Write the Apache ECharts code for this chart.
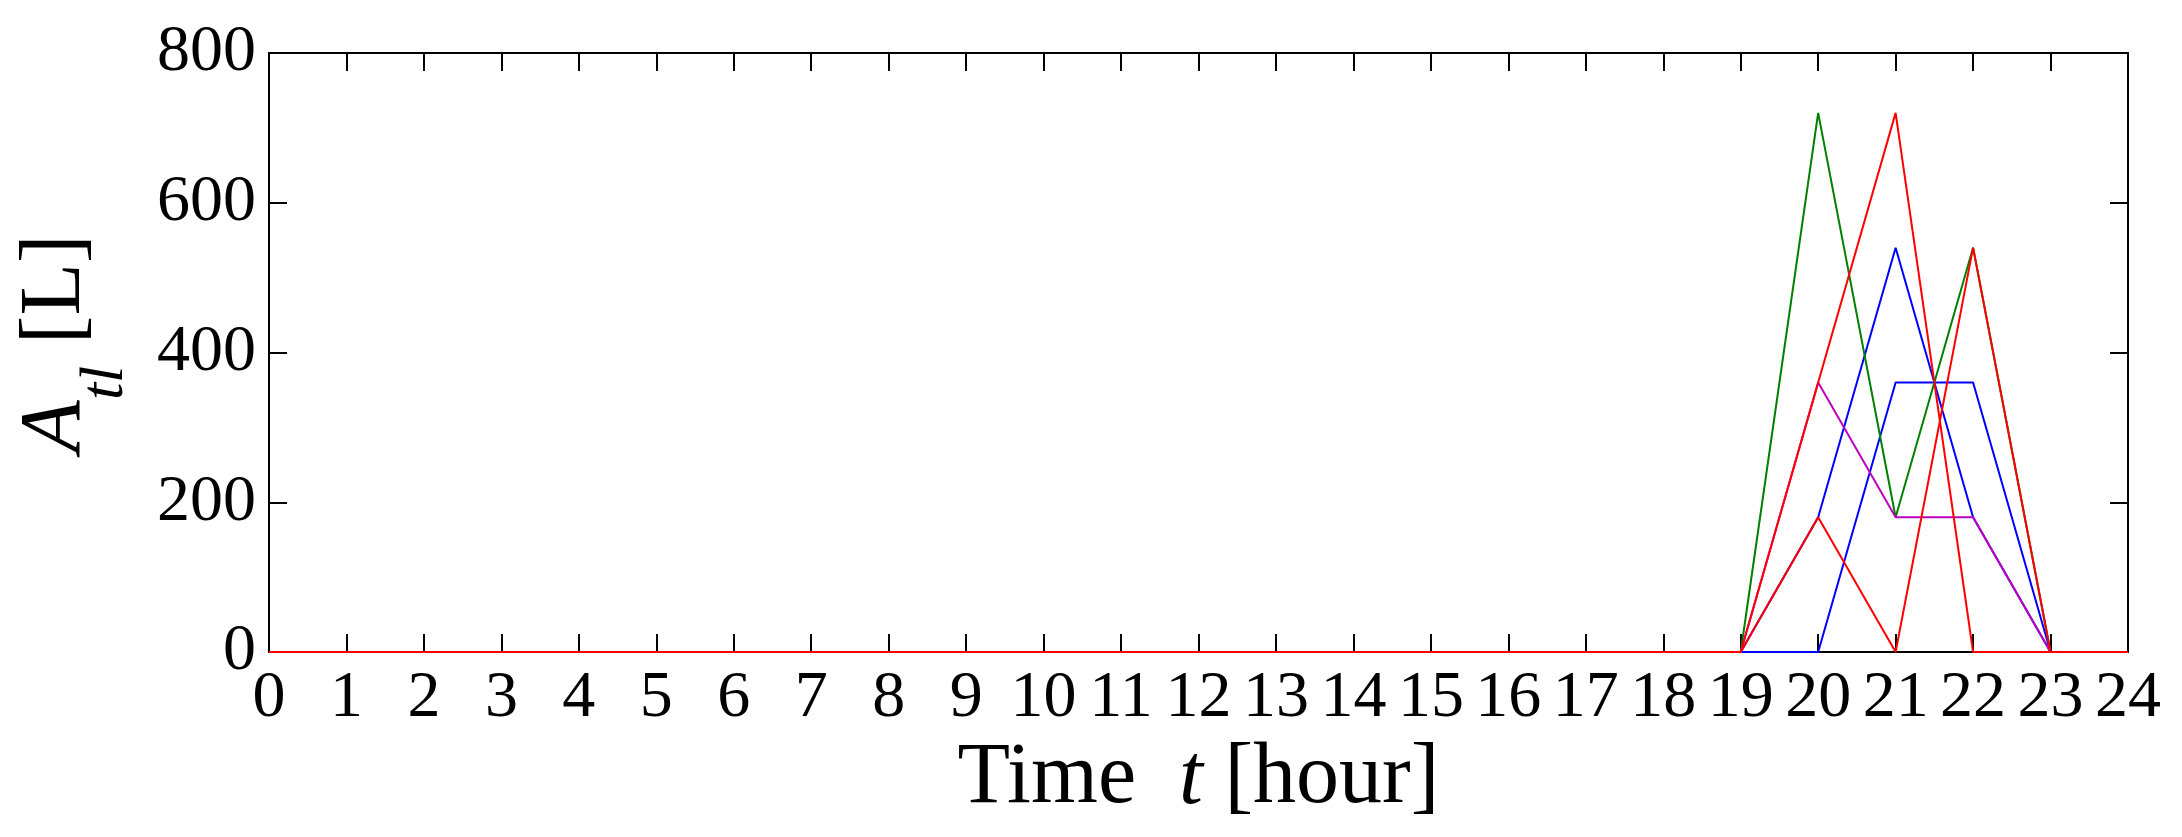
<!DOCTYPE html>
<html>
<head>
<meta charset="utf-8">
<title>A_tl over time</title>
<script src="https://cdn.jsdelivr.net/npm/echarts@6/dist/echarts.min.js"></script>
<style>
  html, body { margin: 0; padding: 0; background: #fff; }
  #chart { width: 2182px; height: 837px; }
</style>
</head>
<body>
<div id="chart"></div>
<script>
// hours of the day (x) and the volume series A_tl [L]
const hours = [0, 1, 2, 3, 4, 5, 6, 7, 8, 9, 10, 11, 12, 13, 14, 15, 16, 17, 18, 19, 20, 21, 22, 23, 24];
const yTicks = [0, 200, 400, 600, 800];

const blueA   = [0, 0, 0, 0, 0, 0, 0, 0, 0, 0, 0, 0, 0, 0, 0, 0, 0, 0, 0, 0, 180, 540, 180, 0, 0];
const blueB   = [0, 0, 0, 0, 0, 0, 0, 0, 0, 0, 0, 0, 0, 0, 0, 0, 0, 0, 0, 0, 0, 360, 360, 0, 0];
const green   = [0, 0, 0, 0, 0, 0, 0, 0, 0, 0, 0, 0, 0, 0, 0, 0, 0, 0, 0, 0, 720, 180, 540, 0, 0];
const magenta = [0, 0, 0, 0, 0, 0, 0, 0, 0, 0, 0, 0, 0, 0, 0, 0, 0, 0, 0, 0, 360, 180, 180, 0, 0];
const redB    = [0, 0, 0, 0, 0, 0, 0, 0, 0, 0, 0, 0, 0, 0, 0, 0, 0, 0, 0, 0, 180, 0, 540, 0, 0];
const redA    = [0, 0, 0, 0, 0, 0, 0, 0, 0, 0, 0, 0, 0, 0, 0, 0, 0, 0, 0, 0, 360, 720, 0, 0, 0];

// draw order: last one ends up on top
const lines = [
    { name: "blueA", color: "#0000ff", data: blueA },
    { name: "blueB", color: "#0000ff", data: blueB },
    { name: "green", color: "#008000", data: green },
    { name: "magenta", color: "#bf00bf", data: magenta },
    { name: "redB", color: "#ff0000", data: redB },
    { name: "redA", color: "#ff0000", data: redA },
];

const FONT = "Liberation Serif";
const axisLine = { show: true, onZero: false, lineStyle: { color: "#000", width: 2 } };
const tickIn = { show: true, inside: true, length: 18, lineStyle: { color: "#000", width: 2 } };

const chart = echarts.init(document.getElementById("chart"));

chart.setOption({
    animation: false,
    backgroundColor: "#fff",
    grid: { left: 269, right: 54, top: 53, bottom: 185 },
    xAxis: [
        {
            type: "value",
            min: hours[0],
            max: hours[hours.length - 1],
            interval: 1,
            position: "bottom",
            axisLine: axisLine,
            axisTick: tickIn,
            splitLine: { show: false },
            axisLabel: {
                fontFamily: FONT, fontSize: 66, color: "#000", margin: 14,
                showMinLabel: true, showMaxLabel: true,
            },
            name: "{n|Time  }{i|t}{n| [hour]}",
            nameLocation: "middle",
            nameGap: 78,
            nameTextStyle: {
                rich: {
                    n: { fontFamily: FONT, fontSize: 86, color: "#000" },
                    i: { fontFamily: FONT, fontSize: 86, color: "#000", fontStyle: "italic" },
                },
            },
        },
        {
            type: "value",
            min: hours[0],
            max: hours[hours.length - 1],
            interval: 1,
            position: "top",
            axisLine: axisLine,
            axisTick: tickIn,
            axisLabel: { show: false },
            splitLine: { show: false },
        },
    ],
    yAxis: [
        {
            type: "value",
            min: yTicks[0],
            max: yTicks[yTicks.length - 1],
            interval: 200,
            position: "left",
            axisLine: axisLine,
            axisTick: tickIn,
            splitLine: { show: false },
            axisLabel: { fontFamily: FONT, fontSize: 66, color: "#000", margin: 13 },
            name: "{a|A}{s|tl}{n| [L]}",
            nameLocation: "middle",
            nameRotate: 90,
            nameGap: 132,
            nameTextStyle: {
                padding: [0, 0, 0, 18],
                rich: {
                    a: { fontFamily: FONT, fontSize: 86, color: "#000", fontStyle: "italic" },
                    s: { fontFamily: FONT, fontSize: 62, color: "#000", fontStyle: "italic", padding: [100, 0, 0, 0] },
                    n: { fontFamily: FONT, fontSize: 86, color: "#000" },
                },
            },
        },
        {
            type: "value",
            min: yTicks[0],
            max: yTicks[yTicks.length - 1],
            interval: 200,
            position: "right",
            axisLine: axisLine,
            axisTick: tickIn,
            axisLabel: { show: false },
            splitLine: { show: false },
        },
    ],
    series: lines.map(l => ({
        name: l.name,
        type: "line",
        symbol: "none",
        silent: true,
        lineStyle: { color: l.color, width: 2 },
        data: hours.map((h, i) => [h, l.data[i]]),
    })),
});
</script>
</body>
</html>
